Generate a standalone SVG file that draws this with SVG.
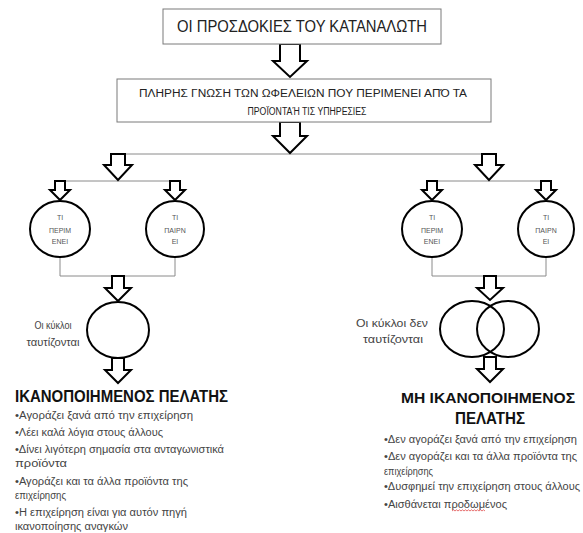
<svg xmlns="http://www.w3.org/2000/svg" width="583" height="533" viewBox="0 0 583 533">
<style>
.box{fill:#fff;stroke:#7a7a7a;stroke-width:1}
.arr{fill:#fff;stroke:#000;stroke-width:2;stroke-linejoin:miter}
.ell{fill:#fff;stroke:#000;stroke-width:2}
.con{fill:none;stroke:#8a8a8a;stroke-width:1}
.t{font-family:"Liberation Sans",Arial,sans-serif;fill:#222}
.el{font-family:"Liberation Sans",Arial,sans-serif;font-size:7px;fill:#555;text-anchor:middle}
.lbl{font-family:"Liberation Sans",Arial,sans-serif;font-size:11px;fill:#444;text-anchor:middle}
.h{font-family:"Liberation Sans",Arial,sans-serif;font-weight:bold;fill:#111}
.b{font-family:"Liberation Sans",Arial,sans-serif;font-size:10px;fill:#444}
</style>
<rect width="583" height="533" fill="#fff"/>

<g id="connectors">
<line class="con" x1="118" y1="154" x2="489" y2="154"/>
<line class="con" x1="60" y1="181" x2="175" y2="181"/>
<line class="con" x1="432" y1="181" x2="546" y2="181"/>
<path class="con" d="M60,257 V276 H175 V257"/>
<path class="con" d="M432,257 V276 H546 V257"/>
<path class="arr" d="M280,44 H300 V61 H307 L290,77 L273,61 H280 Z"/>
<path class="arr" d="M280,122 H300 V136 H307 L290,153 L273,136 H280 Z"/>
<path class="arr" d="M111,154 H125 V165 H132 L118,180 L104,165 H111 Z"/>
<path class="arr" d="M482,154 H496 V165 H503 L489,180 L475,165 H482 Z"/>
<path class="arr" d="M55,181 H65 V190 H70 L60,200 L50,190 H55 Z"/>
<path class="arr" d="M170,181 H180 V190 H185 L175,200 L165,190 H170 Z"/>
<path class="arr" d="M427,181 H437 V190 H442 L432,200 L422,190 H427 Z"/>
<path class="arr" d="M541,181 H551 V190 H556 L546,200 L536,190 H541 Z"/>
<path class="arr" d="M112,276 H124 V288 H131 L118,301 L105,288 H112 Z"/>
<path class="arr" d="M484,276 H496 V288 H503 L490,300 L477,288 H484 Z"/>
<path class="arr" d="M112,358 H124 V370 H131 L118,383 L105,370 H112 Z"/>
<path class="arr" d="M484,357 H496 V369 H503 L490,382 L477,369 H484 Z"/>
</g>

<g id="n-expectations">
<rect class="box" x="163" y="9" width="278" height="35"/>
<text class="t" x="302" y="32" font-size="16" text-anchor="middle" textLength="250" lengthAdjust="spacingAndGlyphs">ΟΙ ΠΡΟΣΔΟΚΙΕΣ ΤΟΥ ΚΑΤΑΝΑΛΩΤΗ</text>
</g>

<g id="n-knowledge">
<rect class="box" x="117" y="79" width="374" height="43"/>
<text class="t" x="303" y="97" font-size="10" text-anchor="middle" textLength="328" lengthAdjust="spacingAndGlyphs">ΠΛΗΡΗΣ ΓΝΩΣΗ ΤΩΝ ΩΦΕΛΕΙΩΝ ΠΟΥ ΠΕΡΙΜΕΝΕΙ  ΑΠΌ ΤΑ</text>
<text class="t" x="307" y="115" font-size="10" text-anchor="middle" textLength="119" lengthAdjust="spacingAndGlyphs">ΠΡΟΪΟΝΤΑΉ ΤΙΣ ΥΠΗΡΕΣΙΕΣ</text>
</g>

<g id="n-left-expects">
<ellipse class="ell" cx="60" cy="229" rx="30" ry="28"/>
<text class="el" x="60" y="219.5">ΤΙ</text>
<text class="el" x="60" y="232.5">ΠΕΡΙΜ</text>
<text class="el" x="60" y="244">ΕΝΕΙ</text>
</g>
<g id="n-left-gets">
<ellipse class="ell" cx="175" cy="229" rx="29" ry="28"/>
<text class="el" x="175" y="219.5">ΤΙ</text>
<text class="el" x="175" y="232.5">ΠΑΙΡΝ</text>
<text class="el" x="175" y="244">ΕΙ</text>
</g>
<g id="n-right-expects">
<ellipse class="ell" cx="432" cy="229" rx="30" ry="28"/>
<text class="el" x="432" y="219.5">ΤΙ</text>
<text class="el" x="432" y="232.5">ΠΕΡΙΜ</text>
<text class="el" x="432" y="244">ΕΝΕΙ</text>
</g>
<g id="n-right-gets">
<ellipse class="ell" cx="546" cy="229" rx="28" ry="28"/>
<text class="el" x="546" y="219.5">ΤΙ</text>
<text class="el" x="546" y="232.5">ΠΑΙΡΝ</text>
<text class="el" x="546" y="244">ΕΙ</text>
</g>

<g id="n-match">
<ellipse class="ell" cx="118" cy="330" rx="31" ry="28"/>
<text class="lbl" x="53" y="329" textLength="37" lengthAdjust="spacingAndGlyphs">Οι κύκλοι</text>
<text class="lbl" x="53" y="346" textLength="53" lengthAdjust="spacingAndGlyphs">ταυτίζονται</text>
</g>

<g id="n-mismatch">
<ellipse class="ell" cx="472" cy="329" rx="32" ry="28"/>
<ellipse class="ell" cx="508" cy="329" rx="31" ry="28" style="fill:none"/>
<text class="lbl" x="392" y="327" textLength="72" lengthAdjust="spacingAndGlyphs">Οι κύκλοι δεν</text>
<text class="lbl" x="393" y="343" textLength="60" lengthAdjust="spacingAndGlyphs">ταυτίζονται</text>
</g>

<g id="n-satisfied">
<text class="h" x="15" y="402" font-size="16" textLength="213" lengthAdjust="spacingAndGlyphs">ΙΚΑΝΟΠΟΙΗΜΕΝΟΣ ΠΕΛΑΤΗΣ</text>
<text class="b" x="15" y="419" textLength="178" lengthAdjust="spacingAndGlyphs">•Αγοράζει ξανά από την επιχείρηση</text>
<text class="b" x="15" y="436" textLength="148" lengthAdjust="spacingAndGlyphs">•Λέει καλά λόγια στους άλλους</text>
<text class="b" x="15" y="453" textLength="209" lengthAdjust="spacingAndGlyphs">•Δίνει λιγότερη  σημασία στα ανταγωνιστικά</text>
<text class="b" x="15" y="467" textLength="52" lengthAdjust="spacingAndGlyphs">προϊόντα</text>
<text class="b" x="15" y="485" textLength="173" lengthAdjust="spacingAndGlyphs">•Αγοράζει και τα άλλα  προϊόντα  της</text>
<text class="b" x="15" y="499" textLength="51" lengthAdjust="spacingAndGlyphs">επιχείρησης</text>
<text class="b" x="15" y="516" textLength="172" lengthAdjust="spacingAndGlyphs">•Η επιχείρηση είναι για αυτόν πηγή</text>
<text class="b" x="15" y="530" textLength="113" lengthAdjust="spacingAndGlyphs">ικανοποίησης αναγκών</text>
</g>

<g id="n-unsatisfied">
<text class="h" x="488" y="403" font-size="15" text-anchor="middle" textLength="174" lengthAdjust="spacingAndGlyphs">ΜΗ ΙΚΑΝΟΠΟΙΗΜΕΝΟΣ</text>
<text class="h" x="490" y="424" font-size="16" text-anchor="middle" textLength="70" lengthAdjust="spacingAndGlyphs">ΠΕΛΑΤΗΣ</text>
<text class="b" x="384" y="443" textLength="193" lengthAdjust="spacingAndGlyphs">•Δεν αγοράζει  ξανά από την επιχείρηση</text>
<text class="b" x="384" y="460" textLength="193" lengthAdjust="spacingAndGlyphs">•Δεν αγοράζει  και τα άλλα  προϊόντα  της</text>
<text class="b" x="384" y="475" textLength="49" lengthAdjust="spacingAndGlyphs">επιχείρησης</text>
<text class="b" x="384" y="490" textLength="196" lengthAdjust="spacingAndGlyphs">•Δυσφημεί την επιχείρηση στους άλλους</text>
<text class="b" x="384" y="508" textLength="123" lengthAdjust="spacingAndGlyphs">•Αισθάνεται προδωμένος</text>
<path d="M452,511 l1.5,-1.2 1.5,1.2 1.5,-1.2 1.5,1.2 1.5,-1.2 1.5,1.2 1.5,-1.2 1.5,1.2 1.5,-1.2 1.5,1.2 1.5,-1.2 1.5,1.2 1.5,-1.2 1.5,1.2 1.5,-1.2 1.5,1.2 1.5,-1.2 1.5,1.2 1.5,-1.2 1.5,1.2 1.5,-1.2 1.5,1.2" fill="none" stroke="#d33" stroke-width="0.7"/>
</g>
</svg>
